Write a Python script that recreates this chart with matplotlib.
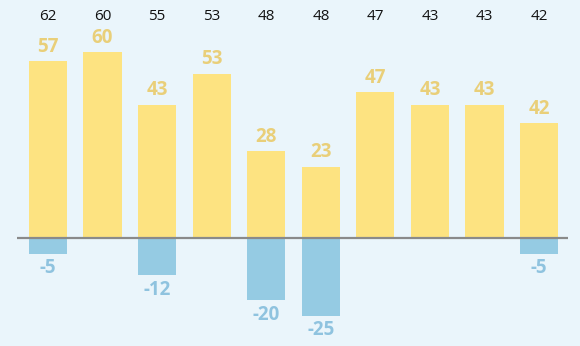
import matplotlib
matplotlib.use("Agg")
import matplotlib.pyplot as plt

top_labels = ["62", "60", "55", "53", "48", "48", "47", "43", "43", "42"]
positive = [57, 60, 43, 53, 28, 23, 47, 43, 43, 37]
positive_labels = ["57", "60", "43", "53", "28", "23", "47", "43", "43", "42"]
negative = [-5, 0, -12, 0, -20, -25, 0, 0, 0, -5]

bg = "#eaf5fb"
yellow = "#fde381"
yellow_txt = "#e9cf79"
blue = "#95cbe3"
blue_txt = "#8fc3df"

plt.rcParams['font.family'] = ['Open Sans', 'DejaVu Sans']

fig = plt.figure(figsize=(5.8, 3.46), dpi=100, facecolor=bg)
ax = fig.add_axes([17/580, 0, (568-17)/580, 1])
ax.set_facecolor(bg)

x = list(range(len(positive)))
ax.bar(x, positive, width=0.7, color=yellow, zorder=2)
ax.bar(x, negative, width=0.7, color=blue, zorder=2)
ax.axhline(0, color="#8a8a8a", lw=1.6, zorder=3)

for i, v in enumerate(positive):
    ax.annotate(positive_labels[i], (i, v), xytext=(0, 10.5), textcoords="offset points",
                ha="center", va="center", fontsize=13.5, fontweight="bold", color=yellow_txt)
for i, v in enumerate(negative):
    if v < 0:
        ax.annotate(str(v), (i, v), xytext=(0, -10.5), textcoords="offset points",
                    ha="center", va="center", fontsize=13.5, fontweight="bold", color=blue_txt)
for i, t in enumerate(top_labels):
    ax.text(i, 0.951, t, transform=ax.get_xaxis_transform(), ha="center", va="center",
            fontsize=11, color="#111111")

ax.set_xlim(-0.568, 9.53)
ax.set_ylim(-34.8, 76.8)
ax.axis("off")

fig.savefig("out.png", dpi=100, facecolor=bg)
